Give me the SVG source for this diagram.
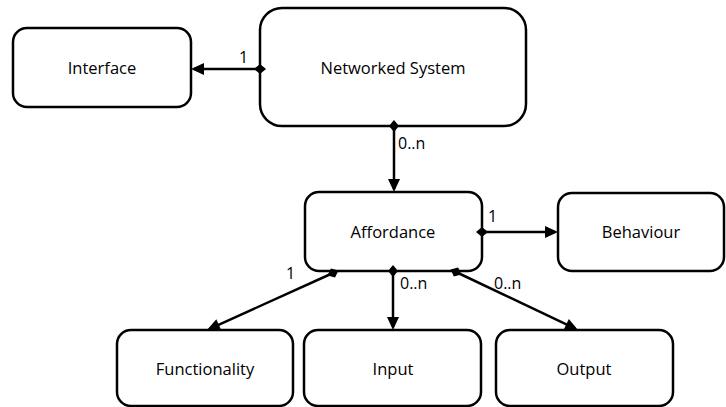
<svg xmlns="http://www.w3.org/2000/svg" width="726" height="407" viewBox="0 0 726 407">
<style>
.box{fill:#fff;stroke:#000;stroke-width:2.5}
.t{font-family:"Open Sans","Liberation Sans",sans-serif;font-size:16.5px;fill:#000;text-anchor:middle;dominant-baseline:central}
.l{font-family:"Open Sans","Liberation Sans",sans-serif;font-size:16px;fill:#000}
.c{stroke:#000;stroke-width:2.5;fill:none;marker-start:url(#dia);marker-end:url(#arr)}
</style>
<defs>
<marker id="arr" markerUnits="userSpaceOnUse" markerWidth="13" markerHeight="12" refX="10" refY="6" orient="auto" overflow="visible"><path d="M0,0 L13,6 L0,12 z" fill="#000"/></marker>
<marker id="dia" markerUnits="userSpaceOnUse" markerWidth="12" markerHeight="10" refX="6" refY="5" orient="auto" overflow="visible"><path d="M0,5 L6,0 L12,5 L6,10 z" fill="#000"/></marker>
</defs>
<g id="interface"><rect class="box" x="13" y="28" width="178" height="79" rx="14"/><text class="t" x="102" y="67.5">Interface</text></g>
<g id="networked-system"><rect class="box" x="260" y="8" width="266" height="118" rx="22"/><text class="t" x="393" y="67.5">Networked System</text></g>
<g id="affordance"><rect class="box" x="305" y="192" width="177" height="79" rx="14"/><text class="t" x="393" y="231.5">Affordance</text></g>
<g id="behaviour"><rect class="box" x="558" y="193" width="166" height="78" rx="14"/><text class="t" x="641" y="231.5">Behaviour</text></g>
<g id="functionality"><rect class="box" x="117" y="330" width="176" height="76" rx="14"/><text class="t" x="205" y="368.5">Functionality</text></g>
<g id="input"><rect class="box" x="304" y="330" width="177" height="76" rx="14"/><text class="t" x="393" y="368.5">Input</text></g>
<g id="output"><rect class="box" x="496" y="330" width="177" height="76" rx="14"/><text class="t" x="584" y="368.5">Output</text></g>
<g id="connectors">
<path class="c" d="M260,69 L194,69"/>
<path class="c" d="M394,126 L394,189"/>
<path class="c" d="M482,232 L555,232"/>
<path class="c" d="M333,273 L209.7,328.8"/>
<path class="c" d="M393,271 L393,327"/>
<path class="c" d="M456,272 L575.3,328.7"/>
<text class="l" x="239" y="63">1</text>
<text class="l" x="398" y="149">0..n</text>
<text class="l" x="488" y="222">1</text>
<text class="l" x="286" y="279">1</text>
<text class="l" x="400" y="289">0..n</text>
<text class="l" x="494" y="289">0..n</text>
</g>
</svg>
